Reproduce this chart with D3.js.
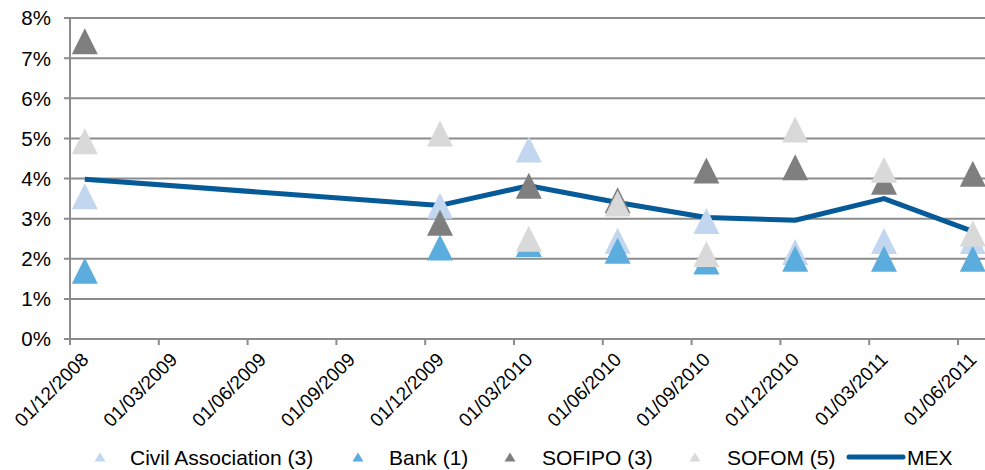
<!DOCTYPE html>
<html><head><meta charset="utf-8">
<script src="https://cdn.jsdelivr.net/npm/d3@7"></script>
<style>
body{margin:0;background:#fff;}
text{font-family:"Liberation Sans",Arial,sans-serif;fill:#000;}
</style></head>
<body>
<svg id="chart" width="985" height="470"></svg>
<script>
// ---- data ----
const dates = ["2008-12","2009-12","2010-03","2010-06","2010-09","2010-12","2011-03","2011-06"];
const civilAssociation = [3.56, 3.32, 4.72, 2.45, 2.94, 2.17, 2.44, 2.44];
const bank            = [1.70, 2.28, 2.37, 2.20, 1.93, 2.00, 2.00, 2.00];
const sofipo          = [7.42, 2.90, 3.82, 3.46, 4.20, 4.28, 3.92, 4.12];
const sofom           = [4.93, 5.12, 2.50, 3.38, 2.12, 5.22, 4.22, 2.63];
const mex             = [3.98, 3.33, 3.82, 3.40, 3.03, 2.96, 3.50, 2.68];
const tickLabels = ["01/12/2008","01/03/2009","01/06/2009","01/09/2009","01/12/2009","01/03/2010","01/06/2010","01/09/2010","01/12/2010","01/03/2011","01/06/2011"];
const yTicks = [0,1,2,3,4,5,6,7,8];
const seriesNames = ["Civil Association (3)","Bank (1)","SOFIPO (3)","SOFOM (5)","MEX"];
const colors = {ca:"#c2d7ef", bank:"#5badde", sofipo:"#7f7f7f", sofom:"#d9d9d9", mex:"#075a98"};

// ---- helpers ----
const monthIdx = s => { const [yy,m] = s.split("-").map(Number); return (yy-2008)*12 + (m-12); };
const tickIdx = s => { const [d,m,yy] = s.split("/").map(Number); return (yy-2008)*12 + (m-12); };

const svg = d3.select("#chart");
const padL = 70, padT = 18, padB = 339;
const x = d3.scaleLinear().domain([0, 31]).range([padL, padL + 31*29.6]);
const y = d3.scaleLinear().domain([0, 8]).range([padB, padT]);

// gridlines
svg.append("g").selectAll("line").data(yTicks).join("line")
  .attr("x1", padL-6).attr("x2", 985).attr("y1", d=>y(d)).attr("y2", d=>y(d))
  .attr("stroke", "#8c8c8c").attr("stroke-width", 2);

// y axis line
svg.append("line").attr("x1", padL).attr("x2", padL).attr("y1", y(8)).attr("y2", padB+6)
  .attr("stroke", "#8c8c8c").attr("stroke-width", 2);

// y labels
svg.append("g").selectAll("text").data(yTicks).join("text")
  .attr("x", 51).attr("y", d=>y(d)).attr("dy", "0.36em").attr("text-anchor", "end")
  .attr("font-size", 20.5).text(d => d + "%");

// x ticks
svg.append("g").selectAll("line").data(tickLabels).join("line")
  .attr("x1", d=>x(tickIdx(d))).attr("x2", d=>x(tickIdx(d)))
  .attr("y1", padB).attr("y2", padB+6)
  .attr("stroke", "#8c8c8c").attr("stroke-width", 2);

// x labels
svg.append("g").selectAll("text").data(tickLabels).join("text")
  .attr("text-anchor", "end").attr("font-size", 19)
  .attr("transform", d => `translate(${x(tickIdx(d))+15},${padB+17}) rotate(-45)`)
  .attr("dy", "0.35em").text(d=>d);

// MEX line (behind markers)
const line = d3.line().x((d,i)=>x(monthIdx(dates[i])+0.5)).y(d=>y(d));
svg.append("path").datum(mex).attr("d", line).attr("fill","none")
  .attr("stroke", colors.mex).attr("stroke-width", 5).attr("stroke-linejoin","round");

// triangles
const tri = (hw, hh) => `M0,${-hh}L${hw},${hh}L${-hw},${hh}Z`;
const series = [
  {vals: civilAssociation, c: colors.ca},
  {vals: bank, c: colors.bank},
  {vals: sofipo, c: colors.sofipo},
  {vals: sofom, c: colors.sofom}
];
series.forEach(s => {
  svg.append("g").selectAll("path").data(s.vals).join("path")
    .attr("d", tri(13, 13))
    .attr("transform", (d,i)=>`translate(${x(monthIdx(dates[i])+0.5)},${y(d)})`)
    .attr("fill", s.c);
});

// legend
const leg = svg.append("g");
const legItems = [
  {name: seriesNames[0], c: colors.ca, mx: 100, tx: 130},
  {name: seriesNames[1], c: colors.bank, mx: 358, tx: 389},
  {name: seriesNames[2], c: colors.sofipo, mx: 510, tx: 542},
  {name: seriesNames[3], c: colors.sofom, mx: 695, tx: 727}
];
const ly = 457;
legItems.forEach(it => {
  leg.append("path").attr("d", tri(5.5, 4.5)).attr("transform", `translate(${it.mx},${ly})`).attr("fill", it.c);
  leg.append("text").attr("x", it.tx).attr("y", ly).attr("dy","0.36em").attr("font-size", 21).text(it.name);
});
leg.append("line").attr("x1", 849).attr("x2", 903).attr("y1", ly).attr("y2", ly)
  .attr("stroke", colors.mex).attr("stroke-width", 5).attr("stroke-linecap","round");
leg.append("text").attr("x", 907).attr("y", ly).attr("dy","0.36em").attr("font-size", 21).text(seriesNames[4]);
</script>
</body></html>
